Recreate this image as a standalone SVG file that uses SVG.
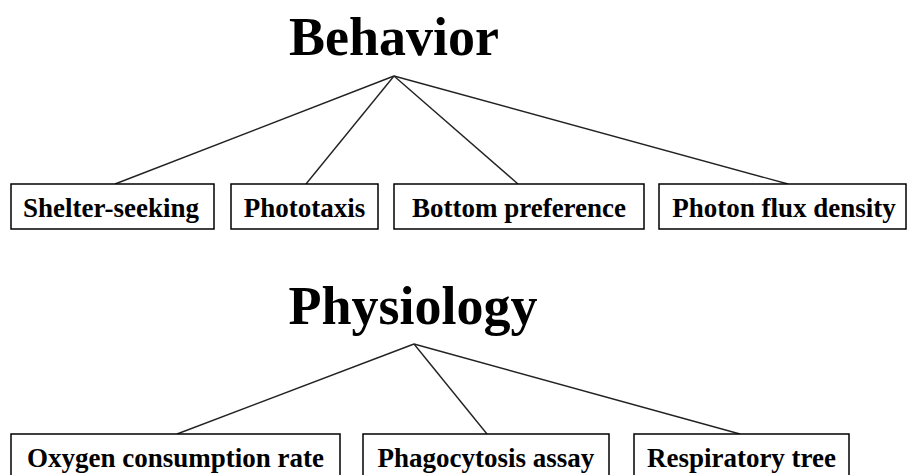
<svg xmlns="http://www.w3.org/2000/svg" width="909" height="475" viewBox="0 0 909 475">
<style>
.title{font-family:"Liberation Serif","Times New Roman",serif;font-weight:bold;font-size:54px;fill:#000;text-anchor:middle}
.lbl{font-family:"Liberation Serif","Times New Roman",serif;font-weight:bold;font-size:27px;fill:#000;text-anchor:middle}
.box{fill:#fff;stroke:#000;stroke-width:1.5}
.conn line{stroke:#222;stroke-width:1.4}
</style>
<rect width="909" height="475" fill="#fff"/>
<g id="connectors" class="conn">
<line x1="394" y1="76" x2="115" y2="184"/>
<line x1="394" y1="76" x2="306" y2="184"/>
<line x1="394" y1="76" x2="518" y2="184"/>
<line x1="394" y1="76" x2="788" y2="184"/>
<line x1="414" y1="344" x2="177" y2="434"/>
<line x1="414" y1="344" x2="487" y2="434"/>
<line x1="414" y1="344" x2="740" y2="434"/>
</g>
<g id="behavior"><text class="title" x="394" y="55">Behavior</text></g>
<g id="shelter"><rect class="box" x="11" y="184" width="203" height="45"/><text class="lbl" x="111" y="217">Shelter-seeking</text></g>
<g id="phototaxis"><rect class="box" x="231" y="184" width="147" height="45"/><text class="lbl" x="304.5" y="217">Phototaxis</text></g>
<g id="bottom"><rect class="box" x="394" y="184" width="250" height="45"/><text class="lbl" x="519" y="217">Bottom preference</text></g>
<g id="photon"><rect class="box" x="659" y="184" width="247" height="45"/><text class="lbl" x="784" y="217">Photon flux density</text></g>
<g id="physiology"><text class="title" x="413" y="324">Physiology</text></g>
<g id="oxygen"><rect class="box" x="11" y="434" width="329" height="45"/><text class="lbl" x="175.5" y="467">Oxygen consumption rate</text></g>
<g id="phago"><rect class="box" x="363" y="434" width="246" height="45"/><text class="lbl" x="486" y="467">Phagocytosis assay</text></g>
<g id="resp"><rect class="box" x="634" y="434" width="215" height="45"/><text class="lbl" x="741.5" y="467">Respiratory tree</text></g>
</svg>
